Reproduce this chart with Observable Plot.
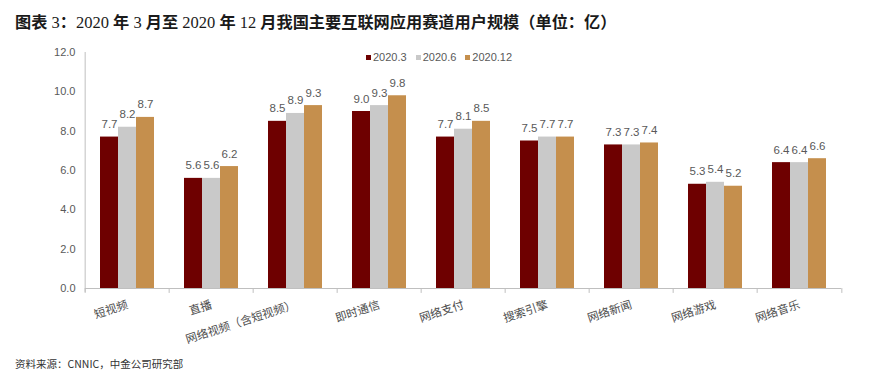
<!DOCTYPE html>
<html><head><meta charset="utf-8">
<script src="https://cdn.jsdelivr.net/npm/d3@7"></script>
<script src="https://cdn.jsdelivr.net/npm/@observablehq/plot@0.6"></script>
<style>
  html,body{margin:0;padding:0;background:#fff;}
  #wrap{position:relative;width:887px;height:388px;overflow:hidden;background:#fff;}
  #title{position:absolute;left:15px;top:10px;font-size:16.2px;color:#1a1a1a;white-space:nowrap;
    font-family:"Noto Sans CJK SC",sans-serif;font-weight:700;line-height:22px;}
  #title .n{font-family:"Liberation Serif",serif;font-weight:400;font-size:16.5px;}
  #chart{position:absolute;left:0;top:40px;}
  #legend{position:absolute;left:366px;top:50px;font-family:"Liberation Sans",Arial,sans-serif;font-size:11px;color:#595959;white-space:nowrap;line-height:14px;}
  #legend span.item{margin-right:9px;}
  #legend i{display:inline-block;width:5px;height:5px;margin-right:2px;vertical-align:1px;}
  #source{position:absolute;left:15px;top:356px;font-family:"Noto Sans CJK SC",sans-serif;font-size:10.5px;color:#333;white-space:nowrap;}
</style>
</head><body>
<div id="wrap">
  <div id="title">图表<span class="n"> 3</span>：<span class="n">2020 </span>年<span class="n"> 3 </span>月至<span class="n"> 2020 </span>年<span class="n"> 12 </span>月我国主要互联网应用赛道用户规模（单位：亿）</div>
  <div id="legend"></div>
  <div id="chart"></div>
  <div id="source">资料来源：CNNIC，中金公司研究部</div>
</div>
<script>
const categories = ["短视频","直播","网络视频（含短视频）","即时通信","网络支付","搜索引擎","网络新闻","网络游戏","网络音乐"];
const series = ["2020.3","2020.6","2020.12"];
const values2020_3  = [7.7, 5.6, 8.5, 9.0, 7.7, 7.5, 7.3, 5.3, 6.4];
const values2020_6  = [8.2, 5.6, 8.9, 9.3, 8.1, 7.7, 7.3, 5.4, 6.4];
const values2020_12 = [8.7, 6.2, 9.3, 9.8, 8.5, 7.7, 7.4, 5.2, 6.6];
const yTicks = [0, 2, 4, 6, 8, 10, 12];
const colors = ["#6E0000", "#C9C9C9", "#C58F4D"];

const seriesValues = [values2020_3, values2020_6, values2020_12];
const data = categories.flatMap((c, i) => series.map((s, j) => ({category: c, series: s, value: seriesValues[j][i]})));

const W = 887, H = 310, mL = 82, mR = 43, mT = 12, mB = 62;
const facetW = (W - mL - mR) / categories.length;
const axisColor = "#BFBFBF";

const chart = Plot.plot({
  width: W, height: H,
  marginLeft: mL, marginRight: mR, marginTop: mT, marginBottom: mB,
  style: {fontFamily: "'Liberation Sans', Arial, 'Noto Sans CJK SC', sans-serif", fontSize: "11px", color: "#595959", background: "transparent", overflow: "visible"},
  fx: {domain: categories, padding: 0, label: null, axis: null},
  x: {domain: series, paddingInner: 0, paddingOuter: 0.743, axis: null},
  y: {domain: [0, 12], axis: null},
  color: {domain: series, range: colors},
  marks: [
    Plot.axisY({ticks: yTicks, tickFormat: d => d.toFixed(1), tickSize: 0, tickPadding: 10, label: null, fill: "#595959"}),
    Plot.barY(data, {fx: "category", x: "series", y: "value", fill: "series"}),
    Plot.text(data, {fx: "category", x: "series", y: "value", text: d => d.value.toFixed(1), lineAnchor: "bottom", dy: -9, fill: "#595959", fontSize: 11.5}),
    Plot.ruleY([0], {stroke: axisColor}),
    Plot.ruleX(categories, {fx: d => d, x: null, y1: 12, y2: -0.2, dx: -facetW / 2, stroke: axisColor, filter: (d, i) => i === 0}),
    Plot.ruleX(categories, {fx: d => d, x: null, y1: 0, y2: -0.25, dx: -facetW / 2, stroke: axisColor}),
    Plot.ruleX(categories.slice(-1), {fx: d => d, x: null, y1: 0, y2: -0.25, dx: facetW / 2, stroke: axisColor}),
    Plot.axisFx({anchor: "bottom", tickRotate: -18, tickSize: 0, tickPadding: 16, label: null, fontSize: 11.5, fill: "#4d4d4d",
      fontFamily: "'Noto Sans CJK SC', sans-serif"})
  ]
});
document.getElementById("chart").appendChild(chart);

const legend = document.getElementById("legend");
series.forEach((s, j) => {
  const item = document.createElement("span");
  item.className = "item";
  const sw = document.createElement("i");
  sw.style.background = colors[j];
  item.appendChild(sw);
  item.appendChild(document.createTextNode(s));
  legend.appendChild(item);
});
</script>
</body></html>
